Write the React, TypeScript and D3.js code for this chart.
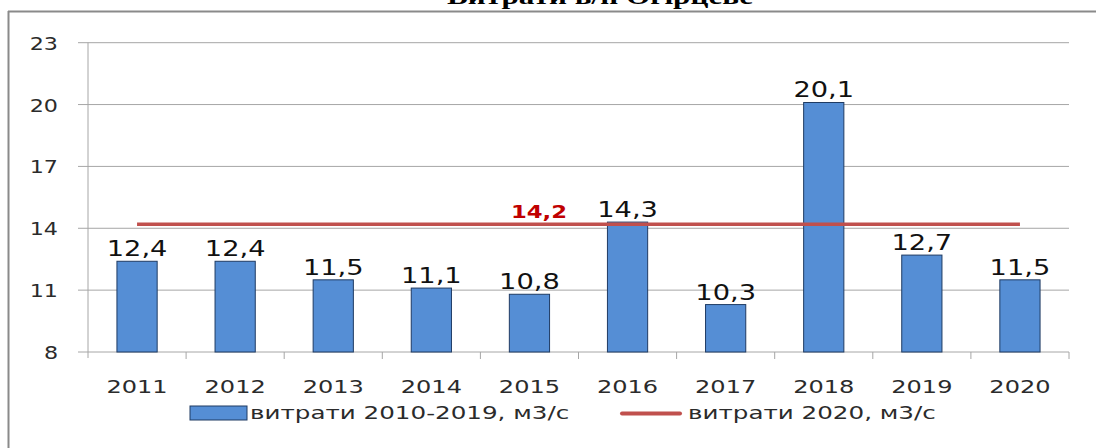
import React from "react";
import * as d3 from "d3";

const years = ["2011", "2012", "2013", "2014", "2015", "2016", "2017", "2018", "2019", "2020"];
const flows = [12.4, 12.4, 11.5, 11.1, 10.8, 14.3, 10.3, 20.1, 12.7, 11.5];
const flow2020 = 14.2;
const yTicks = [8, 11, 14, 17, 20, 23];
const title = "Витрати в/п Огірцеве";
const legendBar = "витрати 2010-2019, м3/с";
const legendLine = "витрати 2020, м3/с";

const fmt = (v: number) => v.toFixed(1).replace(".", ",");
const font = "'DejaVu Sans', Verdana, sans-serif";

function SText(props: { x: number; y: number; sx?: number; anchor?: string; size: number; fill: string; weight?: string; family?: string; children: React.ReactNode }) {
  const { x, y, sx = 1.27, anchor = "start", size, fill, weight = "normal", family = font, children } = props;
  return (
    <text transform={`translate(${x},${y}) scale(${sx},1)`} textAnchor={anchor} fontFamily={family} fontSize={size} fill={fill} fontWeight={weight}>
      {children}
    </text>
  );
}

export default function App() {
  const W = 1096, H = 448;
  const left = 88, right = 1069, top = 42.7, bottom = 352;
  const x = d3.scaleBand<string>().domain(years).range([left, right]).paddingInner(0.59).paddingOuter(0.295);
  const y = d3.scaleLinear().domain([8, 23]).range([bottom, top]);
  const step = x.step();
  const cx = (yr: string) => x(yr)! + x.bandwidth() / 2;
  const first = cx(years[0]);
  const last = cx(years[years.length - 1]);
  return (
    <svg width={W} height={H} style={{ position: "absolute", left: 0, top: 0, background: "#fff" }}>
      <rect x={0} y={0} width={W} height={H} fill="#fff" />
      <SText x={600} y={4} anchor="middle" size={24} sx={1.3} weight="bold" family="'Liberation Serif', 'Times New Roman', serif" fill="#000">{title}</SText>
      <line x1={8} x2={W} y1={11.5} y2={11.5} stroke="#8a8a8a" strokeWidth={2} />
      <line x1={8.5} x2={8.5} y1={11} y2={H} stroke="#8a8a8a" strokeWidth={2} />
      {yTicks.map(t => (
        <g key={t}>
          <line x1={left - 10} x2={right} y1={y(t)} y2={y(t)} stroke="#a6a6a6" strokeWidth={1} />
          <SText x={left - 30} y={y(t) + 7} anchor="end" size={18.5} sx={1.2} fill="#2b2b2b">{t}</SText>
        </g>
      ))}
      <line x1={left} x2={left} y1={top} y2={bottom + 6} stroke="#a6a6a6" />
      {years.map((yr, i) => (
        <line key={"t" + yr} x1={left + step * (i + 1)} x2={left + step * (i + 1)} y1={bottom} y2={bottom + 7} stroke="#a6a6a6" />
      ))}
      {years.map((yr, i) => (
        <g key={yr}>
          <rect x={x(yr)!} y={y(flows[i])} width={x.bandwidth()} height={bottom - y(flows[i])} fill="#558ed5" stroke="#1f3b63" strokeWidth={1} />
          <SText x={cx(yr)} y={y(flows[i]) - 5} anchor="middle" size={20.5} sx={1.33} fill="#111">{fmt(flows[i])}</SText>
          <SText x={cx(yr)} y={393} anchor="middle" size={18.5} sx={1.3} fill="#2b2b2b">{yr}</SText>
        </g>
      ))}
      <line x1={first} x2={last} y1={y(flow2020)} y2={y(flow2020)} stroke="#c0504d" strokeWidth={3.5} />
      <SText x={539} y={y(flow2020) - 6} anchor="middle" size={17.5} sx={1.3} weight="bold" fill="#c00000">{fmt(flow2020)}</SText>
      <rect x={190} y={406} width={57} height={14} fill="#558ed5" stroke="#1f3b63" strokeWidth={1} />
      <SText x={250} y={419} size={18.5} sx={1.33} fill="#2b2b2b">{legendBar}</SText>
      <line x1={622} x2={680} y1={413.5} y2={413.5} stroke="#c0504d" strokeWidth={4} strokeLinecap="round" />
      <SText x={688} y={419} size={18.5} sx={1.33} fill="#2b2b2b">{legendLine}</SText>
    </svg>
  );
}
